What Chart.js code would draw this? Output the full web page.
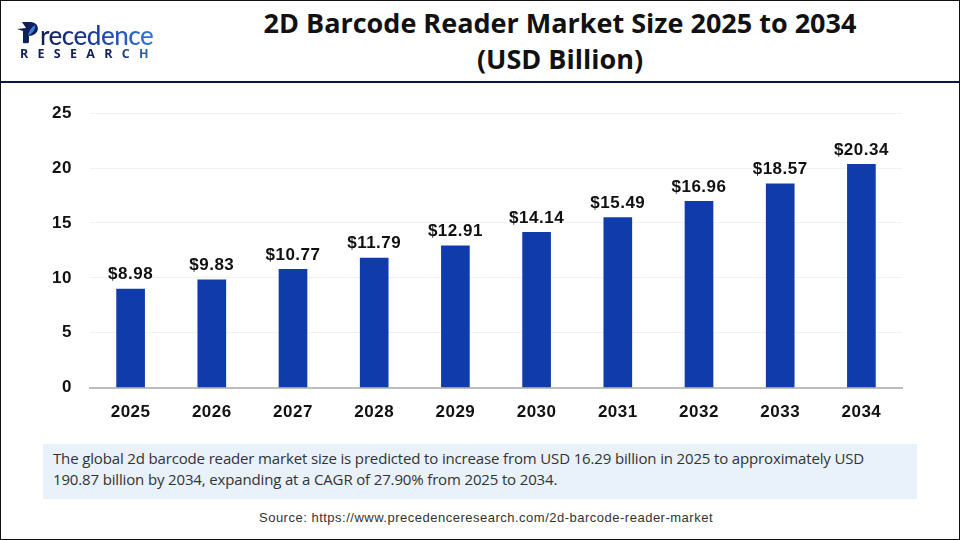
<!DOCTYPE html>
<html>
<head>
<meta charset="utf-8">
<script src="https://cdn.jsdelivr.net/npm/chart.js@4"></script>
<style>
html, body { margin: 0; padding: 0; background: #fff; }
#page { position: relative; width: 960px; height: 540px; overflow: hidden; font-family: "Liberation Sans", sans-serif; box-sizing: border-box; border: 1px solid #111; }
#page div, #page svg { position: absolute; }
#title { left: 159px; top: 4px; width: 800px; text-align: center; font: bold 27px/36px "Open Sans", sans-serif; color: #111; }
#rule { left: 0; top: 80px; width: 960px; height: 2px; background: #0b1545; }
#logoTop { left: 39px; top: 19px; font: 500 26px/30px Lato, sans-serif; letter-spacing: -0.5px; color: transparent; background: linear-gradient(90deg, #101e5a 0%, #1d3f9e 50%, #2f78dc 100%); -webkit-background-clip: text; background-clip: text; }
#logoBottom { left: 19px; top: 45px; font: bold 12.5px/16px "Open Sans", sans-serif; letter-spacing: 9.3px; color: transparent; background: linear-gradient(90deg, #101e5a 0%, #101e5a 65%, #2f78dc 100%); -webkit-background-clip: text; background-clip: text; }
#chartBox { left: -1px; top: 84px; width: 960px; height: 352px; }
#note { left: 42px; top: 443px; width: 874px; height: 55px; background: #e9f1fa; box-sizing: border-box; padding: 4px 10px; font: 15px/21px "Open Sans", sans-serif; letter-spacing: -0.15px; color: #333; }
#source { left: 0; top: 509px; width: 970px; text-align: center; font: 13px/16px "Liberation Sans", sans-serif; letter-spacing: 0.5px; color: #333; }
</style>
</head>
<body>
<div id="page">
  <svg width="24" height="26" style="left:16px;top:20px">
    <path d="M5 1 L14 1 Q21 2 21 8 Q20 14 12 15 L12 21 Q12 23 6 22 L6 10 L0 8 L9 7 Z" fill="#101e5a"/>
    <path d="M18 4 Q19 10 11 15 Q12 8 18 4 Z" fill="#3f7fe0"/>
  </svg>
  <div id="logoTop">recedence</div>
  <div id="logoBottom">RESEARCH</div>
  <div id="title">2D Barcode Reader Market Size 2025 to 2034<br>(USD Billion)</div>
  <div id="rule"></div>
  <div id="chartBox"><canvas id="chart" width="960" height="352"></canvas></div>
  <div id="note">The global 2d barcode reader market size is predicted to increase from USD 16.29 billion in 2025 to approximately USD 190.87 billion by 2034, expanding at a CAGR of 27.90% from 2025 to 2034.</div>
  <div id="source">Source: https://www.precedenceresearch.com/2d-barcode-reader-market</div>
</div>
<script>
var years = ['2025', '2026', '2027', '2028', '2029', '2030', '2031', '2032', '2033', '2034'];
var marketSize = [8.98, 9.83, 10.77, 11.79, 12.91, 14.14, 15.49, 16.96, 18.57, 20.34];
var valueTicks = [0, 5, 10, 15, 20, 25];

// writes the $ label above each bar, reference text is a bit wider than Liberation
var barLabels = {
    id: 'barLabels',
    beforeDraw: function (chart) {
        chart.ctx.letterSpacing = '0.5px';
    },
    afterDatasetsDraw: function (chart) {
        var ctx = chart.ctx;
        var bars = chart.getDatasetMeta(0).data;
        ctx.save();
        ctx.font = 'bold 17px "Liberation Sans"';
        ctx.fillStyle = '#111';
        ctx.textAlign = 'center';
        ctx.textBaseline = 'bottom';
        for (var i = 0; i < bars.length; i++) {
            ctx.fillText('$' + marketSize[i].toFixed(2), bars[i].x, bars[i].y - 6);
        }
        ctx.restore();
    }
};

var chart = new Chart(document.getElementById('chart').getContext('2d'), {
    type: 'bar',
    data: {
        labels: years,
        datasets: [{
            data: marketSize,
            backgroundColor: '#0f3bab',
            barThickness: 28,
            borderWidth: 0
        }]
    },
    options: {
        responsive: false,
        animation: false,
        layout: { padding: { top: 18, right: 58, bottom: 7, left: 0 } },
        plugins: {
            legend: { display: false },
            title: { display: false },
            tooltip: { enabled: false }
        },
        scales: {
            x: {
                grid: { display: false },
                border: { color: '#bdbdbd', width: 2 },
                ticks: { color: '#111', padding: 7, font: { family: 'Liberation Sans', size: 17, weight: 'bold' } }
            },
            y: {
                min: 0,
                max: 25,
                afterFit: function (scale) { scale.width = 90; },
                afterBuildTicks: function (scale) {
                    scale.ticks = valueTicks.map(function (v) { return { value: v }; });
                },
                grid: { color: '#f1f1f1', drawTicks: false },
                border: { display: false },
                ticks: { color: '#111', padding: 18, font: { family: 'Liberation Sans', size: 17, weight: 'bold' } }
            }
        }
    },
    plugins: [barLabels]
});
</script>
</body>
</html>
